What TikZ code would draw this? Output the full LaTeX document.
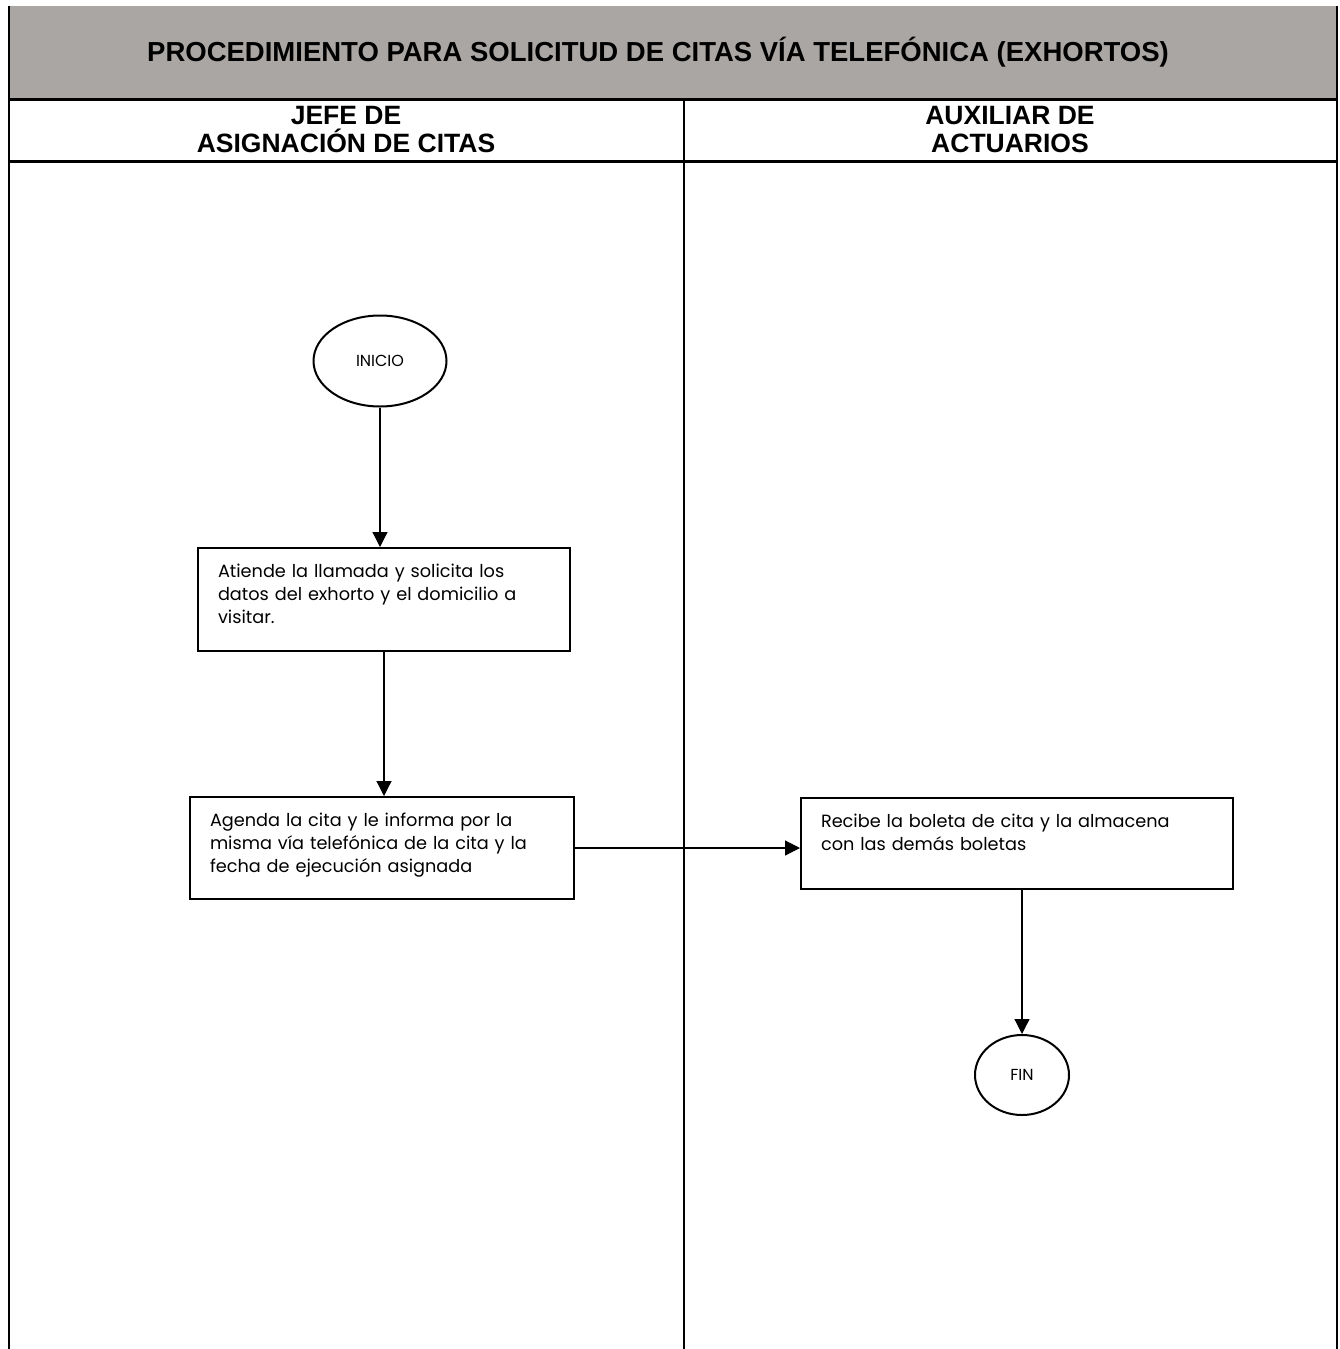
\documentclass[tikz,border=0pt]{standalone}
\usepackage{fontspec}
\setmainfont{Liberation Sans}
\newfontfamily\gothic{Poppins}
\usetikzlibrary{arrows.meta,shapes.geometric}
\definecolor{hdrgray}{RGB}{170,166,164}
\begin{document}
\begin{tikzpicture}[x=1pt,y=-1pt,
  frame/.style={line width=2pt},
  thick rule/.style={line width=3pt},
  lanehead/.style={align=center,font=\bfseries\fontsize{26.5}{28}\selectfont},
  procbox/.style={draw,line width=2pt,rectangle,align=left,inner xsep=20pt,inner ysep=4pt,
    font=\gothic\fontsize{17.7}{23}\selectfont},
  term/.style={draw,line width=2pt,ellipse,inner sep=0pt,font=\gothic\fontsize{16}{18}\selectfont},
  conn/.style={line width=1.2pt,-{Triangle[length=15pt,width=15pt]}}
]
\useasboundingbox (0,0) rectangle (1340,1349);
% header band
\fill[hdrgray] (9,6) rectangle (1337,99);
\draw[frame] (9,6) -- (9,1349);
\draw[frame] (1337,6) -- (1337,1349);
\draw[thick rule] (9,99) -- (1337,99);
\draw[thick rule] (9,161) -- (1337,161);
\draw[line width=1.8pt] (684,99) -- (684,1349);
\node (title) at (658,52) {\bfseries\fontsize{27.5}{30}\selectfont PROCEDIMIENTO PARA SOLICITUD DE CITAS VÍA TELEFÓNICA (EXHORTOS)};
\node[lanehead] (lane1) at (346,130) {JEFE DE\\ASIGNACIÓN DE CITAS};
\node[lanehead] (lane2) at (1010,130) {AUXILIAR DE\\ACTUARIOS};
% flow
\node[term,minimum width=133pt,minimum height=91pt] (inicio) at (380,361) {INICIO};
\node[procbox,minimum width=372pt,minimum height=103pt,text width=332pt] (box1) at (384,599.5)
  {Atiende la llamada y solicita los\\datos del exhorto y el domicilio a\\visitar.\vspace{11pt}};
\node[procbox,minimum width=384pt,minimum height=102pt,text width=344pt] (box2) at (382,848)
  {Agenda la cita y le informa por la\\misma vía telefónica de la cita y la\\fecha de ejecución asignada\vspace{5pt}};
\node[procbox,minimum width=432pt,minimum height=91pt,text width=392pt] (box3) at (1017,843.5)
  {Recibe la boleta de cita y la almacena\\con las demás boletas\\\mbox{}};
\node[term,minimum width=94pt,minimum height=80pt] (fin) at (1022,1075) {FIN};
\draw[conn] (inicio.south) -- (inicio.south |- box1.north);
\draw[conn] (box1.south) -- (box1.south |- box2.north);
\draw[conn] (box2.east) -- (box3.west |- box2.east);
\draw[conn] (box3.south -| fin.north) -- (fin.north);
\end{tikzpicture}
\end{document}
